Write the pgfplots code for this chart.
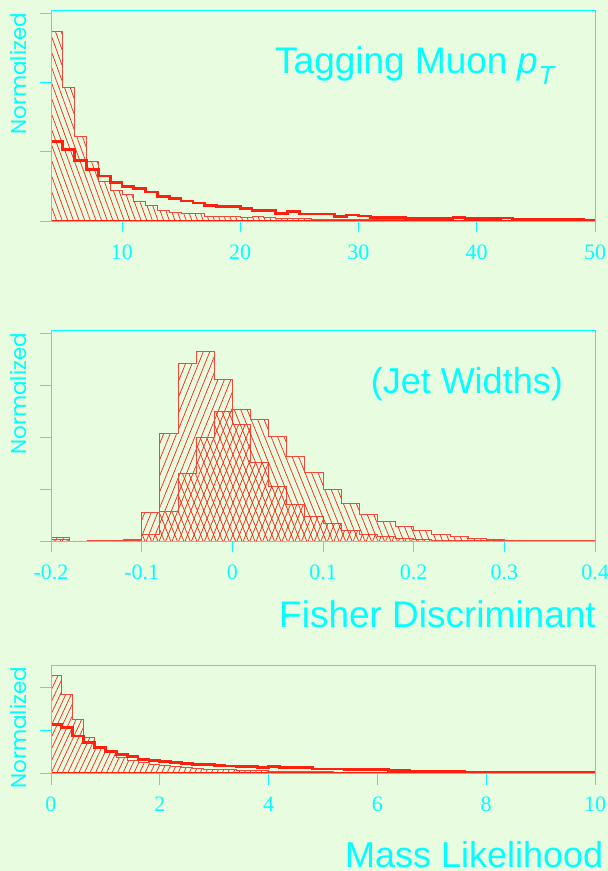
\documentclass[border=0pt]{standalone}
\usepackage{fontspec}
\setmainfont{Liberation Serif}
\newfontfamily\helv{Liberation Sans}
\newfontfamily\geo{Poppins}
\usepackage{pgfplots}
\pgfplotsset{compat=1.18}
\usetikzlibrary{patterns.meta}

\definecolor{bg}{HTML}{E8FDE0}
\definecolor{cy}{HTML}{00FFFF}
\definecolor{hr}{HTML}{FF2010}
\definecolor{hl}{HTML}{F4483A}

\pgfplotsset{
  panel/.style={
    scale only axis, width=544pt, anchor=south west,
    axis line style={cy, line width=0.9pt},
    every tick/.style={cy, line width=0.9pt},
    tick align=outside, major tick length=11.3pt,
    xtick pos=left, ytick pos=left,
    yticklabels={}, ymin=0,
    xticklabel style={cy, font=\fontsize{22}{22}\selectfont, yshift=-9pt},
    axis on top,
  },
  hist/.style={const plot, draw=hl, line width=0.8pt, pattern color=hr},
  sig/.style={const plot, draw=hr, line width=2.8pt, fill=none},
}

\begin{document}
\begin{tikzpicture}
\useasboundingbox (0,0) rectangle (608pt,871pt);
\fill[bg] (0,0) rectangle (608pt,871pt);

% ---- tagging muon pT
\begin{axis}[panel, at={(51pt,650pt)}, height=210.7pt,
  xmin=4, xmax=50, ymax=3.05, ytick={0,1,2,3},
  xtick={10,20,30,40,50}, xticklabels={10,20,30,40,50}]
\addplot[hist, pattern={Lines[angle=-70,distance=5.3pt,line width=0.7pt]}] coordinates {
 (4,2.74) (5,1.93) (6,1.22) (7,0.86) (8,0.57) (9,0.44) (10,0.39) (11,0.28)
 (12,0.22) (13,0.15) (14,0.125) (15,0.11) (16,0.11) (17,0.07) (18,0.07)
 (19,0.06) (20,0.05) (21,0.06) (22,0.045) (23,0.04) (24,0.04) (25,0.035)
 (26,0.03) (27,0.03) (28,0.025) (29,0.03) (30,0.02) (31,0.025) (32,0.02)
 (33,0.02) (34,0.02) (35,0.02) (36,0.015) (37,0.02) (38,0.015) (39,0.015)
 (40,0.015) (41,0.012) (42,0.015) (43,0.012) (44,0.01) (45,0.01) (46,0.01)
 (47,0.01) (48,0.01) (49,0.008) (50,0.008)} \closedcycle;
\addplot[sig] coordinates {
 (4,1.15) (5,1.03) (6,0.87) (7,0.74) (8,0.65) (9,0.56) (10,0.50) (11,0.47)
 (12,0.42) (13,0.35) (14,0.33) (15,0.29) (16,0.26) (17,0.22) (18,0.21)
 (19,0.21) (20,0.18) (21,0.15) (22,0.15) (23,0.11) (24,0.135) (25,0.10)
 (26,0.10) (27,0.10) (28,0.063) (29,0.087) (30,0.072) (31,0.053) (32,0.053)
 (33,0.053) (34,0.04) (35,0.04) (36,0.04) (37,0.04) (38,0.048) (39,0.034)
 (40,0.034) (41,0.034) (42,0.043) (43,0.03) (44,0.03) (45,0.03) (46,0.02)
 (47,0.02) (48,0.02) (49,0.006) (50,0.006)} \closedcycle;
\end{axis}

% ---- fisher discriminant
\begin{axis}[panel, at={(51pt,330pt)}, height=210.7pt,
  xmin=-0.2, xmax=0.4, ymax=4.07, ytick={0,1,2,3,4},
  xtick={-0.2,-0.1,0,0.1,0.2,0.3,0.4},
  xticklabels={-0.2,-0.1,0,0.1,0.2,0.3,0.4}]
\addplot[hist, pattern={Lines[angle=68,distance=6pt,line width=0.7pt]}] coordinates {
 (-0.20,0.06) (-0.18,0) (-0.16,0.01) (-0.14,0.01) (-0.12,0.04) (-0.10,0.56)
 (-0.08,2.08) (-0.06,3.43) (-0.04,3.66) (-0.02,3.12) (0,2.25) (0.02,1.52)
 (0.04,1.06) (0.06,0.70) (0.08,0.47) (0.10,0.34) (0.12,0.20) (0.14,0.12)
 (0.16,0.08) (0.18,0.05) (0.20,0.03) (0.22,0.02) (0.24,0.015) (0.26,0.01)
 (0.28,0.005) (0.30,0.005) (0.32,0.005) (0.34,0.004) (0.36,0.004)
 (0.38,0.004) (0.40,0.004)} \closedcycle;
\addplot[hist, pattern={Lines[angle=-68,distance=6pt,line width=0.7pt]}] coordinates {
 (-0.20,0.03) (-0.18,0) (-0.16,0) (-0.14,0) (-0.12,0.02) (-0.10,0.12)
 (-0.08,0.57) (-0.06,1.31) (-0.04,2.00) (-0.02,2.50) (0,2.55) (0.02,2.34)
 (0.04,2.02) (0.06,1.64) (0.08,1.32) (0.10,0.99) (0.12,0.73) (0.14,0.52)
 (0.16,0.37) (0.18,0.28) (0.20,0.20) (0.22,0.135) (0.24,0.08) (0.26,0.05)
 (0.28,0.04) (0.30,0.02) (0.32,0.015) (0.34,0.01) (0.36,0.01) (0.38,0.008)
 (0.40,0.008)} \closedcycle;
\end{axis}

% ---- mass likelihood
\begin{axis}[panel, at={(51pt,97.7pt)}, height=108.3pt,
  xmin=0, xmax=10, ymax=2.53, ytick={0,1,2},
  xtick={0,2,4,6,8,10}, xticklabels={0,2,4,6,8,10}]
\addplot[hist, pattern={Lines[angle=65,distance=5pt,line width=0.7pt]}] coordinates {
 (0,2.28) (0.2,1.84) (0.4,1.26) (0.6,0.84) (0.8,0.62) (1.0,0.49) (1.2,0.37)
 (1.4,0.30) (1.6,0.25) (1.8,0.21) (2.0,0.18) (2.2,0.15) (2.4,0.13) (2.6,0.11)
 (2.8,0.10) (3.0,0.09) (3.2,0.08) (3.4,0.07) (3.6,0.065) (3.8,0.06)
 (4.0,0.055) (4.2,0.05) (4.4,0.045) (4.6,0.04) (4.8,0.04) (5.0,0.035)
 (5.2,0.03) (5.4,0.03) (5.6,0.03) (5.8,0.025) (6.0,0.025) (6.2,0.02)
 (6.4,0.02) (6.6,0.02) (6.8,0.02) (7.0,0.015) (7.2,0.015) (7.4,0.015)
 (7.6,0.015) (7.8,0.015) (8.0,0.015) (8.2,0.01) (8.4,0.01) (8.6,0.01)
 (8.8,0.01) (9.0,0.01) (9.2,0.01) (9.4,0.01) (9.6,0.01) (9.8,0.01) (10,0.01)} \closedcycle;
\addplot[sig] coordinates {
 (0,1.14) (0.2,1.07) (0.4,0.87) (0.6,0.72) (0.8,0.60) (1.0,0.50) (1.2,0.44)
 (1.4,0.39) (1.6,0.33) (1.8,0.29) (2.0,0.27) (2.2,0.26) (2.4,0.23) (2.6,0.21)
 (2.8,0.20) (3.0,0.18) (3.2,0.17) (3.4,0.165) (3.6,0.15) (3.8,0.14)
 (4.0,0.15) (4.2,0.14) (4.4,0.13) (4.6,0.13) (4.8,0.10) (5.0,0.10) (5.2,0.10)
 (5.4,0.08) (5.6,0.08) (5.8,0.08) (6.0,0.08) (6.2,0.07) (6.4,0.07)
 (6.6,0.05) (6.8,0.05) (7.0,0.05) (7.2,0.05) (7.4,0.05) (7.6,0.03) (7.8,0.03)
 (8.0,0.03) (8.2,0.03) (8.4,0.03) (8.6,0.03) (8.8,0.03) (9.0,0.03) (9.2,0.03)
 (9.4,0.015) (9.6,0.015) (9.8,0.015) (10,0.015)} \closedcycle;
\end{axis}

% ---- texts
\begin{scope}[every node/.style={inner sep=0pt, text=cy}]
\node[anchor=base west, font=\helv\fontsize{37}{37}\selectfont] at (275pt,797pt)
  {Tagging Muon \textit{p}\raisebox{-11pt}{\fontsize{26}{26}\selectfont\textit{T}}};
\node[anchor=base east, font=\helv\fontsize{36}{36}\selectfont] at (563pt,477pt) {(Jet Widths)};
\node[anchor=base east, font=\helv\fontsize{37}{37}\selectfont] at (596pt,243pt) {Fisher Discriminant};
\node[anchor=base west, font=\helv\fontsize{36}{36}\selectfont] at (345pt,3.5pt) {Mass Likelihood};
\node[rotate=90, anchor=base east, font=\geo\fontsize{21.5}{21.5}\selectfont] at (26pt,858.3pt) {Normalized};
\node[rotate=90, anchor=base east, font=\geo\fontsize{21.5}{21.5}\selectfont] at (26pt,538.3pt) {Normalized};
\node[rotate=90, anchor=base east, font=\geo\fontsize{21.5}{21.5}\selectfont] at (26pt,204.3pt) {Normalized};
\end{scope}
\end{tikzpicture}
\end{document}
